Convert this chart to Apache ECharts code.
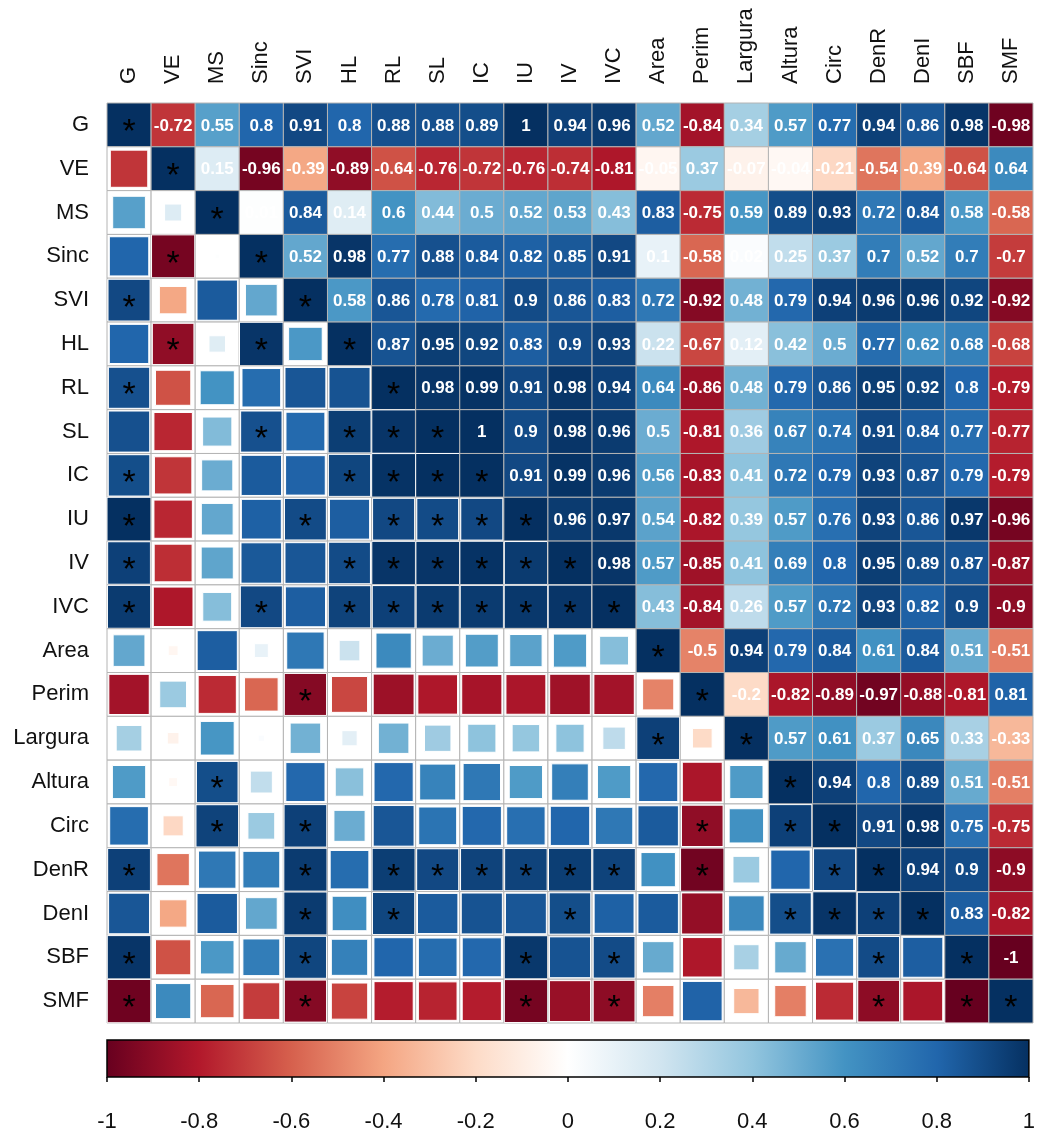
<!DOCTYPE html>
<html>
<head>
<meta charset="utf-8">
<script src="https://cdn.jsdelivr.net/npm/echarts@6/dist/echarts.min.js"></script>
<style>
  html, body { margin: 0; padding: 0; background: #fff; }
  #chart { width: 1038px; height: 1133px; }
</style>
</head>
<body>
<div id="chart"></div>
<script>
// variables (rows / columns of the matrix)
const vars = ['G', 'VE', 'MS', 'Sinc', 'SVI', 'HL', 'RL', 'SL', 'IC', 'IU', 'IV', 'IVC',
  'Area', 'Perim', 'Largura', 'Altura', 'Circ', 'DenR', 'DenI', 'SBF', 'SMF'];

// correlations right of the diagonal, one array per row
const upG = [-0.72, 0.55, 0.8, 0.91, 0.8, 0.88, 0.88, 0.89, 1, 0.94, 0.96, 0.52, -0.84, 0.34, 0.57, 0.77, 0.94, 0.86, 0.98, -0.98];
const upVE = [0.15, -0.96, -0.39, -0.89, -0.64, -0.76, -0.72, -0.76, -0.74, -0.81, -0.05, 0.37, -0.07, -0.04, -0.21, -0.54, -0.39, -0.64, 0.64];
const upMS = [0.01, 0.84, 0.14, 0.6, 0.44, 0.5, 0.52, 0.53, 0.43, 0.83, -0.75, 0.59, 0.89, 0.93, 0.72, 0.84, 0.58, -0.58];
const upSinc = [0.52, 0.98, 0.77, 0.88, 0.84, 0.82, 0.85, 0.91, 0.1, -0.58, 0.02, 0.25, 0.37, 0.7, 0.52, 0.7, -0.7];
const upSVI = [0.58, 0.86, 0.78, 0.81, 0.9, 0.86, 0.83, 0.72, -0.92, 0.48, 0.79, 0.94, 0.96, 0.96, 0.92, -0.92];
const upHL = [0.87, 0.95, 0.92, 0.83, 0.9, 0.93, 0.22, -0.67, 0.12, 0.42, 0.5, 0.77, 0.62, 0.68, -0.68];
const upRL = [0.98, 0.99, 0.91, 0.98, 0.94, 0.64, -0.86, 0.48, 0.79, 0.86, 0.95, 0.92, 0.8, -0.79];
const upSL = [1, 0.9, 0.98, 0.96, 0.5, -0.81, 0.36, 0.67, 0.74, 0.91, 0.84, 0.77, -0.77];
const upIC = [0.91, 0.99, 0.96, 0.56, -0.83, 0.41, 0.72, 0.79, 0.93, 0.87, 0.79, -0.79];
const upIU = [0.96, 0.97, 0.54, -0.82, 0.39, 0.57, 0.76, 0.93, 0.86, 0.97, -0.96];
const upIV = [0.98, 0.57, -0.85, 0.41, 0.69, 0.8, 0.95, 0.89, 0.87, -0.87];
const upIVC = [0.43, -0.84, 0.26, 0.57, 0.72, 0.93, 0.82, 0.9, -0.9];
const upArea = [-0.5, 0.94, 0.79, 0.84, 0.61, 0.84, 0.51, -0.51];
const upPerim = [-0.2, -0.82, -0.89, -0.97, -0.88, -0.81, 0.81];
const upLargura = [0.57, 0.61, 0.37, 0.65, 0.33, -0.33];
const upAltura = [0.94, 0.8, 0.89, 0.51, -0.51];
const upCirc = [0.91, 0.98, 0.75, -0.75];
const upDenR = [0.94, 0.9, -0.9];
const upDenI = [0.83, -0.82];
const upSBF = [-1];
const upperRows = [upG, upVE, upMS, upSinc, upSVI, upHL, upRL, upSL, upIC, upIU, upIV, upIVC,
  upArea, upPerim, upLargura, upAltura, upCirc, upDenR, upDenI, upSBF];

// significant pairs (star) in the lower triangle, by row
const starRows = {
  Sinc: ['VE'],
  SVI: ['G'],
  HL: ['VE', 'Sinc'],
  RL: ['G'],
  SL: ['Sinc', 'HL', 'RL'],
  IC: ['G', 'HL', 'RL', 'SL'],
  IU: ['G', 'SVI', 'RL', 'SL', 'IC'],
  IV: ['G', 'HL', 'RL', 'SL', 'IC', 'IU'],
  IVC: ['G', 'Sinc', 'HL', 'RL', 'SL', 'IC', 'IU', 'IV'],
  Perim: ['SVI'],
  Largura: ['Area'],
  Altura: ['MS'],
  Circ: ['MS', 'SVI', 'Perim', 'Altura'],
  DenR: ['G', 'SVI', 'RL', 'SL', 'IC', 'IU', 'IV', 'IVC', 'Perim', 'Circ'],
  DenI: ['SVI', 'RL', 'IV', 'Altura', 'Circ', 'DenR'],
  SBF: ['G', 'SVI', 'IU', 'IVC', 'DenR'],
  SMF: ['G', 'SVI', 'IU', 'IVC', 'DenR', 'SBF']
};

// colour bar range
const barMin = -1;
const barMax = 1;

// RdBu palette, -1 -> 1
const palette = ['#67001F', '#B2182B', '#D6604D', '#F4A582', '#FDDBC7', '#FFFFFF',
  '#D1E5F0', '#92C5DE', '#4393C3', '#2166AC', '#053061'];

// build full matrix: [col, row, value, kind(0 upper,1 lower,2 diag), star]
const n = vars.length;
const cells = [];
for (let i = 0; i < n; i++) {
  for (let j = 0; j < n; j++) {
    if (i === j) {
      cells.push([j, i, 1, 2, 1]);
    } else if (j > i) {
      cells.push([j, i, upperRows[i][j - i - 1], 0, 0]);
    } else {
      const v = upperRows[j][i - j - 1];
      const st = (starRows[vars[i]] || []).indexOf(vars[j]) >= 0 ? 1 : 0;
      cells.push([j, i, v, 1, st]);
    }
  }
}

const font = '"Liberation Sans", Arial, sans-serif';
const gridCol = '#b4b4b4';

function renderCell(params, api) {
  const c = api.coord([api.value(0), api.value(1)]);
  const size = api.size([1, 1]);
  const w = size[0], h = size[1];
  const v = api.value(2);
  const kind = api.value(3);
  const star = api.value(4);
  const color = api.visual('color');
  const x0 = c[0] - w / 2, y0 = c[1] - h / 2;
  const children = [];

  if (kind === 1) {
    children.push({
      type: 'rect', shape: { x: x0, y: y0, width: w, height: h },
      style: { fill: '#fff', stroke: gridCol, lineWidth: 1 }
    });
    const s = Math.sqrt(Math.abs(v));
    const sw = w * s, sh = h * s;
    children.push({
      type: 'rect', shape: { x: c[0] - sw / 2, y: c[1] - sh / 2, width: sw, height: sh },
      style: { fill: color, stroke: '#fff', lineWidth: 1 }
    });
  } else {
    children.push({
      type: 'rect', shape: { x: x0, y: y0, width: w, height: h },
      style: { fill: color, stroke: gridCol, lineWidth: 1 }
    });
  }

  if (kind === 0) {
    children.push({
      type: 'text',
      style: {
        text: String(v), x: c[0], y: c[1] + 1,
        fill: '#fff', font: 'bold 17px ' + font,
        align: 'center', verticalAlign: 'middle'
      }
    });
  }
  if (kind === 2 || star) {
    children.push({
      type: 'text',
      style: {
        text: '*', x: c[0], y: c[1] + 8,
        fill: '#000', font: '34px ' + font,
        align: 'center', verticalAlign: 'middle'
      }
    });
  }
  return { type: 'group', children: children };
}

function renderBar(params, api) {
  const p0 = api.coord([api.value(0), 1]);
  const p1 = api.coord([api.value(1), 0]);
  const stops = palette.map((col, k) => ({ offset: k / (palette.length - 1), color: col }));
  return {
    type: 'rect',
    shape: { x: p0[0], y: p0[1], width: p1[0] - p0[0], height: p1[1] - p0[1] },
    style: {
      fill: new echarts.graphic.LinearGradient(0, 0, 1, 0, stops),
      stroke: '#000', lineWidth: 1.5
    }
  };
}

const chart = echarts.init(document.getElementById('chart'));
chart.setOption({
  backgroundColor: '#fff',
  animation: false,
  grid: [
    { left: 107, top: 103, width: 926, height: 920 },
    { left: 107, top: 1040, width: 927, height: 37 }
  ],
  xAxis: [
    {
      type: 'category', data: vars, gridIndex: 0, position: 'top',
      axisLine: { show: false }, axisTick: { show: false }, splitLine: { show: false },
      axisLabel: { rotate: -90, fontSize: 22, margin: 19, color: '#111', fontFamily: font, interval: 0 }
    },
    {
      type: 'value', gridIndex: 1, min: barMin, max: barMax, interval: 0.2,
      axisLine: { show: false }, splitLine: { show: false },
      axisTick: { show: true, length: 5, lineStyle: { color: '#000', width: 1.5 } },
      axisLabel: {
        fontSize: 22, margin: 34, color: '#111', fontFamily: font,
        showMinLabel: true, showMaxLabel: true,
        formatter: v => String(Math.round(v * 10) / 10)
      }
    }
  ],
  yAxis: [
    {
      type: 'category', data: vars, gridIndex: 0, inverse: true,
      axisLine: { show: false }, axisTick: { show: false }, splitLine: { show: false },
      axisLabel: { fontSize: 22, margin: 18, color: '#111', fontFamily: font, interval: 0 }
    },
    { type: 'value', gridIndex: 1, min: 0, max: 1, show: false }
  ],
  visualMap: {
    type: 'continuous', show: false, min: barMin, max: barMax,
    dimension: 2, seriesIndex: 0,
    inRange: { color: palette }
  },
  series: [
    {
      type: 'custom', xAxisIndex: 0, yAxisIndex: 0,
      renderItem: renderCell, data: cells, encode: { x: 0, y: 1 }
    },
    {
      type: 'custom', xAxisIndex: 1, yAxisIndex: 1,
      renderItem: renderBar, data: [[barMin, barMax]], encode: { x: [0, 1] }
    }
  ]
});
</script>
</body>
</html>
